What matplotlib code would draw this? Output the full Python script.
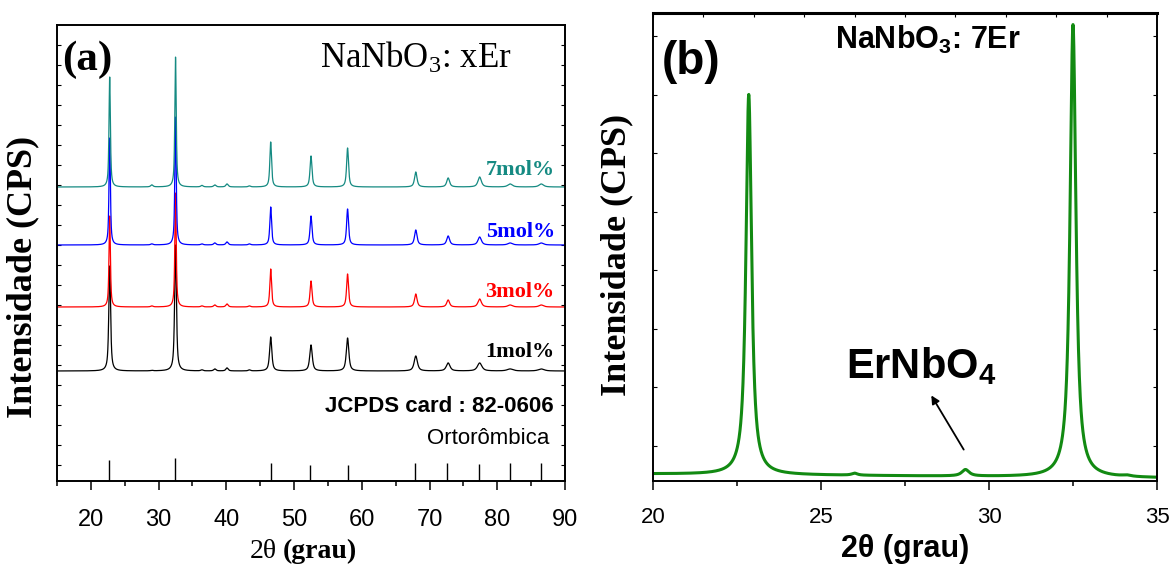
import numpy as np
import matplotlib
matplotlib.use('Agg')
import matplotlib.pyplot as plt

plt.rcParams['font.family'] = ['Liberation Sans Narrow', 'Liberation Sans', 'DejaVu Sans']
plt.rcParams['mathtext.default'] = 'regular'

# ---------------- panel (a) data : NaNbO3 doped with x mol% Er ----------------
samples = ['1mol%', '3mol%', '5mol%', '7mol%']
colors = ['black', '#ff0000', '#0000ff', '#158a82']
offsets = [110, 174, 236, 294]

peaks_a = [22.78, 32.5, 46.55, 52.5, 57.9, 67.97, 72.75, 77.4, 81.9, 86.5]
widths_a = [0.12, 0.12, 0.15, 0.17, 0.17, 0.22, 0.25, 0.3, 0.4, 0.4]
heights_a = {
    '1mol%': [105, 126, 34, 26, 33, 15, 8, 8, 2, 2],
    '3mol%': [91, 114, 38, 26, 33, 13, 7, 8, 2, 2],
    '5mol%': [107, 128, 38, 29, 36, 15, 9, 8, 2, 2],
    '7mol%': [110, 130, 45, 31, 39, 15, 9, 10, 3, 3],
}
small_peaks_a = [29.0, 36.4, 38.3, 40.1, 43.4]
small_heights_a = {
    '1mol%': [0.5, 1, 2, 3, 1],
    '3mol%': [1, 1, 2, 3, 1],
    '5mol%': [1, 1, 2, 3, 1],
    '7mol%': [2, 1.5, 2, 3, 1],
}
width_factor = {'1mol%': 1.3, '3mol%': 1.0, '5mol%': 1.0, '7mol%': 1.0}
label_y = [129, 189, 249, 311]

# JCPDS 82-0606 reference lines
jcpds_pos = [22.7, 32.4, 46.6, 52.4, 57.9, 67.8, 72.6, 77.3, 81.9, 86.4]
jcpds_int = [21, 23, 18, 16, 16, 18, 18, 17, 18, 18]

# ---------------- panel (b) data : 7Er zoom ----------------
peaks_b = [22.85, 26.0, 29.3, 32.5, 34.1]
heights_b = [3250, 17, 55, 3870, 10]
widths_b = [0.1, 0.1, 0.13, 0.105, 0.15]
bg_start, bg_end = 60, 26


def pv(x, centers, heights, widths, eta=0.75):
    y = np.zeros_like(x)
    for c, h, w in zip(centers, heights, widths):
        u = ((x - c) / w) ** 2
        y += h * (eta / (1 + u) + (1 - eta) * np.exp(-np.log(2) * u))
    return y


W, H = 1170, 566
fig = plt.figure(figsize=(W / 100, H / 100), dpi=100)
axA = fig.add_axes([57 / W, 1 - 481 / H, (565 - 57) / W, (481 - 25) / H])
axB = fig.add_axes([653 / W, 1 - 481 / H, (1157 - 653) / W, (481 - 13) / H])

serif = ['Liberation Serif', 'DejaVu Serif']
narrow = ['Liberation Sans Narrow', 'Liberation Sans', 'DejaVu Sans']

# ---- (a)
xa = np.linspace(15, 90, 8000)
for name, col, off in zip(samples, colors, offsets):
    wf = width_factor[name]
    y = pv(xa, peaks_a, heights_a[name], [w * wf for w in widths_a])
    y += pv(xa, small_peaks_a, small_heights_a[name], [0.2] * 5)
    axA.plot(xa, off + y, color=col, lw=0.9)

for name, col, ly in zip(samples, colors, label_y):
    axA.text(88.5, ly, name, color=col, fontsize=16, fontweight='bold',
             family=serif, ha='right', va='center')

axA.vlines(jcpds_pos, 0, jcpds_int, color='black', lw=1.0)

axA.set_xlim(15, 90)
axA.set_ylim(0, 456)
axA.set_xticks(np.arange(20, 91, 10))
axA.set_xticks(np.arange(15, 91, 10), minor=True)
axA.set_yticks(np.arange(16, 456, 20))
axA.tick_params(axis='x', which='major', direction='out', length=6.5, width=1.1,
                labelsize=17, pad=14)
axA.tick_params(axis='x', which='minor', direction='out', length=3.5, width=1.1)
axA.tick_params(axis='y', direction='in', length=3, width=0.8, left=True, right=True,
                labelleft=False)
for s in axA.spines.values():
    s.set_linewidth(1.4)

axA.text(15.7, 421, '(a)', fontsize=31, fontweight='bold', family=serif,
         ha='left', va='center')
axA.text(68.0, 413, r'NaNbO$_3$: xEr', fontsize=25, family=serif,
         ha='center', va='baseline')
axA.text(88.3, 75, 'JCPDS card : 82-0606', fontsize=16, fontweight='bold',
         family=narrow, ha='right', va='center')
axA.text(87.7, 43, 'Ortorômbica', fontsize=16, family=narrow,
         ha='right', va='center')

fig.text(277 / W, 8 / H, '2θ', fontsize=20, family=serif, ha='right', va='baseline')
fig.text(283 / W, 8 / H, '(grau)', fontsize=20, fontweight='bold', family=serif,
         ha='left', va='baseline')
fig.text(23 / W, 1 - 277 / H, 'Intensidade (CPS)', fontsize=26, fontweight='bold',
         family=serif, rotation=90, ha='center', va='center')

# ---- (b)
xb = np.linspace(20, 35, 4000)
yb = bg_start + (bg_end - bg_start) * (xb - 20) / 15
yb = yb + pv(xb, peaks_b, heights_b, widths_b, eta=0.9)
axB.plot(xb, yb, color='#128a12', lw=2.2)

axB.set_xlim(20, 35)
axB.set_ylim(0, 4000)
axB.set_xticks([20, 25, 30, 35])
axB.set_xticks([22.5, 27.5, 32.5], minor=True)
axB.set_yticks(np.arange(300, 4000, 500))
axB.tick_params(axis='x', which='major', direction='out', length=6.5, width=1.1,
                labelsize=16, pad=12)
axB.tick_params(axis='x', which='minor', direction='out', length=3.5, width=1.1)
axB.tick_params(axis='y', direction='in', length=3, width=0.8, left=True, right=True,
                labelleft=False)
for s in axB.spines.values():
    s.set_linewidth(1.4)
axB.spines['top'].set_linewidth(2.2)
top = axB.secondary_xaxis('top')
top.set_xticks(np.arange(20, 35.1, 1.5))
top.tick_params(direction='in', length=3, width=0.8, labeltop=False)

axB.text(20.27, 3581, '(b)', fontsize=33, fontweight='bold', family=narrow,
         ha='left', va='center')
axB.text(28.18, 3692, r'NaNbO$_3$: 7Er', fontsize=22, fontweight='bold',
         family=narrow, ha='center', va='baseline')
axB.text(25.74, 880, r'ErNbO$_4$', fontsize=30, fontweight='bold',
         family=narrow, ha='left', va='baseline')
axB.annotate('', xy=(28.24, 752), xytext=(29.29, 248),
             arrowprops=dict(arrowstyle='-|>', color='black', lw=1.3,
                             mutation_scale=12))

fig.text(905 / W, 9 / H, '2θ (grau)', fontsize=22, fontweight='bold', family=narrow,
         ha='center', va='baseline')
fig.text(617 / W, 1 - 255 / H, 'Intensidade (CPS)', fontsize=26, fontweight='bold',
         family=serif, rotation=90, ha='center', va='center')

fig.savefig('out.png', dpi=100)
